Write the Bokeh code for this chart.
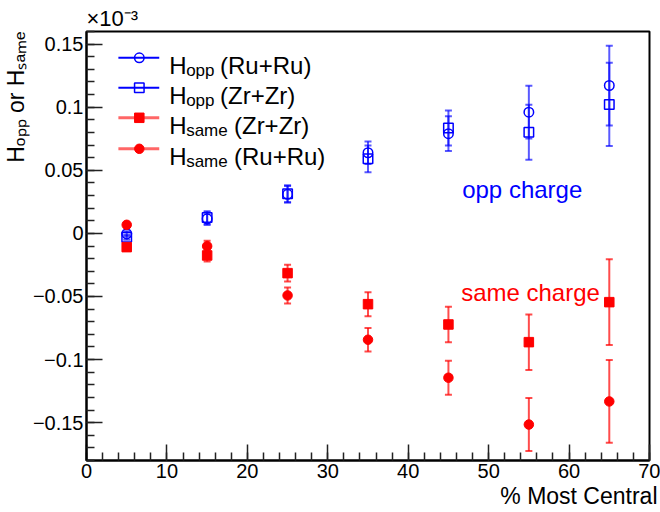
import numpy as np
from bokeh.plotting import figure
from bokeh.models import ColumnDataSource, Whisker, Label, FixedTicker, Range1d, TeeHead, Title
from bokeh.embed import file_html
from bokeh.resources import INLINE

# ---------------- data (values in units of 1e-3) ----------------
centrality = [5, 15, 25, 35, 45, 55, 65]

h_opp_ru = [-0.0003, 0.0116, 0.0310, 0.0639, 0.0790, 0.0961, 0.1172]
h_opp_ru_err = [0.0020, 0.0050, 0.0065, 0.0090, 0.0138, 0.0210, 0.0316]

h_opp_zr = [-0.0030, 0.0126, 0.0314, 0.0591, 0.0835, 0.0802, 0.1022]
h_opp_zr_err = [0.0020, 0.0050, 0.0067, 0.0106, 0.0138, 0.0218, 0.0330]

h_same_zr = [-0.0109, -0.0175, -0.0315, -0.0561, -0.0722, -0.0862, -0.0545]
h_same_zr_err = [0.0020, 0.0047, 0.0067, 0.0095, 0.0140, 0.0220, 0.0340]

h_same_ru = [0.0068, -0.0101, -0.0492, -0.0843, -0.1144, -0.1515, -0.1332]
h_same_ru_err = [0.0020, 0.0043, 0.0063, 0.0093, 0.0134, 0.0210, 0.0328]

x_ticks = [0, 10, 20, 30, 40, 50, 60, 70]
x_tick_labels = ["0", "10", "20", "30", "40", "50", "60", "70"]
y_ticks = [-0.15, -0.1, -0.05, 0, 0.05, 0.1, 0.15]
y_tick_labels = ["\u22120.15", "\u22120.1", "\u22120.05", "0", "0.05", "0.1", "0.15"]

x_title = "% Most Central"
y_title = "H\u2092\u209a\u209a or H\u209b\u2090\u2098\u2091"
exponent = "\u00d710\u207b\u00b3"

# ---------------- layout ----------------
W, H = 660, 512
FL, FR, FT, FB = 84, 649, 31, 460
X0, X1 = 0, 70
Y0, Y1 = -0.18, 0.16
FONT = "Liberation Sans"
BLUE = "#0000ff"
RED = "#ff0000"

p = figure(width=W, height=H, x_range=Range1d(X0, X1), y_range=Range1d(Y0, Y1),
           output_backend="svg", toolbar_location=None,
           min_border_left=FL, min_border_right=W - FR,
           min_border_top=FT, min_border_bottom=H - FB)
p.background_fill_color = "white"
p.border_fill_color = "white"
p.grid.visible = False
p.outline_line_color = "black"
p.outline_line_width = 2

for ax in (p.xaxis[0], p.yaxis[0]):
    ax.major_tick_in = 16
    ax.major_tick_out = 0
    ax.minor_tick_in = 8
    ax.minor_tick_out = 0
    ax.axis_line_width = 2
    ax.axis_line_color = "black"
    ax.major_tick_line_color = "#222222"
    ax.minor_tick_line_color = "#222222"
    ax.major_tick_line_width = 1.5
    ax.minor_tick_line_width = 1.5
    ax.major_label_text_font = FONT
    ax.major_label_text_font_size = "20px"
    ax.major_label_text_color = "black"

p.xaxis.ticker = FixedTicker(ticks=x_ticks, minor_ticks=list(range(0, 71, 2)))
p.xaxis.major_label_overrides = {t: l for t, l in zip(x_ticks, x_tick_labels)}
p.xaxis.major_label_standoff = 3
p.yaxis.ticker = FixedTicker(ticks=y_ticks,
                             minor_ticks=[round(v, 2) for v in np.arange(-0.18, 0.1601, 0.01)])
p.yaxis.major_label_overrides = {t: l for t, l in zip(y_ticks, y_tick_labels)}
p.yaxis.major_label_standoff = 3

# axis titles and exponent as side-panel titles (not clipped by the frame)
p.add_layout(Title(text=y_title, align="right", text_font=FONT, text_font_size="23px",
                   text_font_style="normal", text_color="black", standoff=1, offset=0), "left")
p.add_layout(Title(text=x_title, align="right", text_font=FONT, text_font_size="23px",
                   text_font_style="normal", text_color="black", standoff=0, offset=-8), "below")
p.add_layout(Title(text=exponent, align="left", text_font=FONT, text_font_size="22px",
                   text_font_style="normal", text_color="black", standoff=2, offset=0), "above")


def px2x(px):
    return X0 + (px - FL) * (X1 - X0) / (FR - FL)


def py2y(py):
    return Y1 - (py - FT) * (Y1 - Y0) / (FB - FT)


def add_text(px, py, text, size, color="black", angle=0.0, align="left"):
    p.add_layout(Label(x=px2x(px), y=py2y(py), text=text, text_font=FONT,
                       text_font_size=f"{size}px", text_color=color, angle=angle,
                       text_align=align, text_baseline="alphabetic"))


def add_series(vals, errs, color, marker, filled, err_alpha):
    src = ColumnDataSource(dict(x=centrality, y=vals,
                                lo=[v - e for v, e in zip(vals, errs)],
                                hi=[v + e for v, e in zip(vals, errs)]))
    p.add_layout(Whisker(source=src, base="x", upper="hi", lower="lo",
                         line_color=color, line_alpha=err_alpha, line_width=2,
                         upper_head=TeeHead(size=7, line_color=color, line_alpha=err_alpha, line_width=2),
                         lower_head=TeeHead(size=7, line_color=color, line_alpha=err_alpha, line_width=2)))
    if filled:
        p.scatter("x", "y", source=src, marker=marker, size=9.5, fill_color=color,
                  line_color=color, line_width=1)
    else:
        p.scatter("x", "y", source=src, marker=marker, size=9.5, fill_alpha=0,
                  line_color=color, line_width=1.5)


add_series(h_opp_ru, h_opp_ru_err, BLUE, "circle", False, 0.65)
add_series(h_opp_zr, h_opp_zr_err, BLUE, "square", False, 0.65)
add_series(h_same_zr, h_same_zr_err, RED, "square", True, 0.7)
add_series(h_same_ru, h_same_ru_err, RED, "circle", True, 0.7)

# ---------------- legend (manual, for subscripts) ----------------
rows = [57.3, 87.3, 117.3, 148.3]
leg_colors = [BLUE, BLUE, RED, RED]
leg_markers = ["circle", "square", "square", "circle"]
leg_filled = [False, False, True, True]
leg_subs = ["opp", "opp", "same", "same"]
leg_rest = ["(Ru+Ru)", "(Zr+Zr)", "(Zr+Zr)", "(Ru+Ru)"]
leg_rest_px = [218, 218, 232, 232]
for r, c, m, f, s, rest, rx in zip(rows, leg_colors, leg_markers, leg_filled, leg_subs, leg_rest, leg_rest_px):
    p.segment(x0=[px2x(116)], y0=[py2y(r)], x1=[px2x(157)], y1=[py2y(r)],
              line_color=c, line_width=2 if c == BLUE else 3, line_alpha=1.0 if c == BLUE else 0.6)
    if f:
        p.scatter([px2x(137)], [py2y(r)], marker=m, size=9.5, fill_color=c, line_color=c)
    else:
        p.scatter([px2x(137)], [py2y(r)], marker=m, size=9.5, fill_alpha=0, line_color=c, line_width=1.5)
    add_text(167, r + 7.5, "H", 24)
    add_text(184, r + 12.5, s, 17)
    add_text(rx, r + 7.5, rest, 24)

# ---------------- annotations ----------------
add_text(461, 189, "opp charge", 24, BLUE)
add_text(460, 292, "same charge", 24, RED)

open("out.html", "w").write(file_html(p, INLINE))
